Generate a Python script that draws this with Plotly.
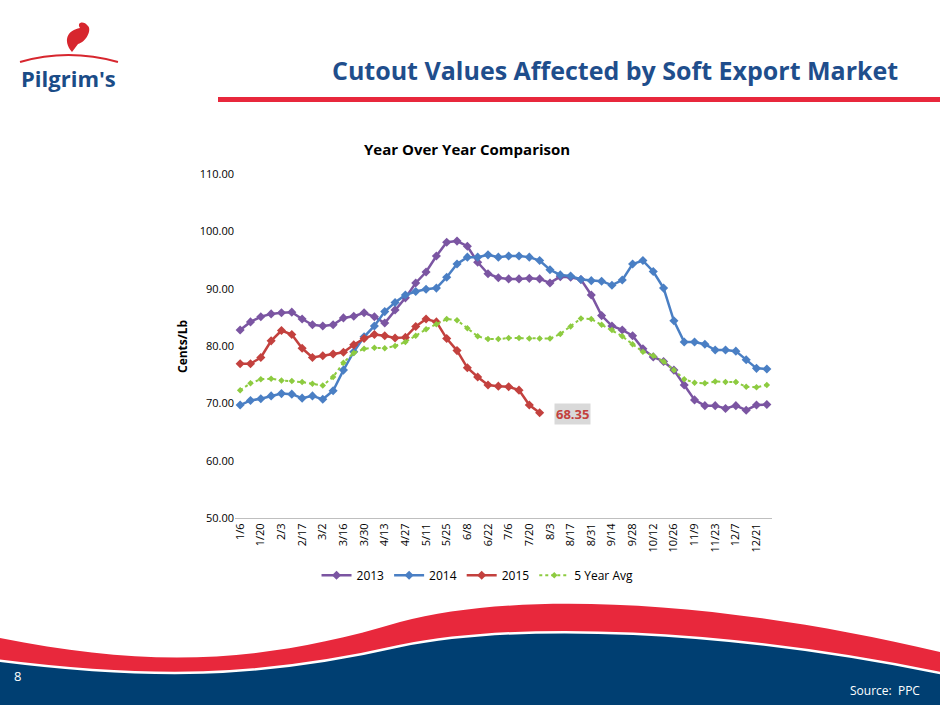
import plotly.graph_objects as go

weeks = ["1/6","1/13","1/20","1/27","2/3","2/10","2/17","2/24","3/2","3/9","3/16","3/23","3/30","4/6","4/13","4/20","4/27","5/4","5/11","5/18","5/25","6/1","6/8","6/15","6/22","6/29","7/6","7/13","7/20","7/27","8/3","8/10","8/17","8/24","8/31","9/7","9/14","9/21","9/28","10/5","10/12","10/19","10/26","11/2","11/9","11/16","11/23","11/30","12/7","12/14","12/21","12/28"]

y2013 = [82.8,84.2,85.1,85.6,85.8,85.9,84.7,83.7,83.5,83.7,84.9,85.2,85.8,85.1,84.0,86.3,88.4,91.0,92.9,95.7,98.1,98.3,97.4,94.6,92.6,91.9,91.7,
         91.7,91.8,91.7,91.0,92.1,92.0,91.6,88.9,85.3,83.5,82.8,81.8,79.5,78.1,77.3,75.8,73.2,70.6,69.6,69.6,69.1,69.6,68.8,69.7,69.8]
y2014 = [69.7,70.5,70.8,71.3,71.7,71.6,70.9,71.3,70.7,72.2,75.8,79.0,81.6,83.5,86.0,87.6,88.9,89.5,89.9,90.1,92.0,94.3,95.5,95.5,95.9,95.5,95.7,
         95.7,95.5,94.9,93.3,92.4,92.2,91.6,91.4,91.3,90.6,91.5,94.3,94.9,93.0,90.1,84.4,80.7,80.7,80.3,79.3,79.3,79.1,77.6,76.1,76.0]
y2015 = [76.9,76.9,78.0,80.9,82.7,82.0,79.6,78.0,78.3,78.6,78.9,80.2,81.3,82.0,81.8,81.4,81.5,83.4,84.7,84.2,81.3,79.2,76.2,74.6,73.2,73.0,72.9,
         72.3,69.7,68.35]
yavg = [72.3,73.5,74.2,74.3,74.0,73.9,73.7,73.4,73.1,74.6,77.1,78.8,79.5,79.7,79.6,80.0,80.7,81.8,82.9,83.8,84.7,84.5,83.1,81.7,81.2,81.2,81.4,
        81.4,81.3,81.3,81.3,82.1,83.4,84.8,84.7,83.7,82.8,81.7,80.3,79.0,78.3,77.3,75.8,74.2,73.6,73.5,73.8,73.7,73.7,72.9,72.8,73.2]
yticks = [50,60,70,80,90,100,110]
tick_weeks = weeks[::2][:26]

fig = go.Figure()
def add(name, y, color, dash="solid"):
    fig.add_trace(go.Scatter(x=weeks[:len(y)], y=y, name=name, mode="lines+markers",
        line=dict(color=color, width=2.5 if dash=="solid" else 2, dash=dash),
        marker=dict(symbol="diamond", size=7 if dash=="solid" else 5, color=color)))
add("2013", y2013, "#7B55A2")
add("2014", y2014, "#4A7FC4")
add("2015", y2015, "#C3413E")
add("5 Year Avg", yavg, "#8DCB40", "dot")

fig.add_annotation(x=weeks[len(y2015)-1], y=y2015[-1], text="<b>68.35</b>", showarrow=False,
    xshift=33, yshift=-1, bgcolor="#D9D9D9", font=dict(color="#C3413E", size=13, family="Open Sans"))

dark = "#1F4E8C"
fig.update_layout(
    width=940, height=705, margin=dict(l=0, r=0, t=0, b=0, autoexpand=False),
    plot_bgcolor="white", paper_bgcolor="white",
    font=dict(family="Open Sans", size=11, color="#404040"),
    xaxis=dict(domain=[235/940, 772/940], type="category", categoryorder="array", categoryarray=weeks,
               tickmode="array", tickvals=tick_weeks, ticktext=tick_weeks, tickangle=-90, automargin=False,
               showgrid=False, showline=True, linecolor="#BFBFBF", ticks="", range=[-0.5, 51.5],
               tickfont=dict(size=11, color="#000")),
    yaxis=dict(domain=[1-518/705, 1-174/705], range=[50, 110], tickvals=yticks, tickformat=".2f", automargin=False,
               showgrid=False, showline=False, zeroline=False, tickfont=dict(size=11, color="#000")),
    legend=dict(orientation="h", x=0.508, xanchor="center", y=0.184, yanchor="middle",
                font=dict(size=12, color="#000")),
    showlegend=True,
)
def txt(x, y, text, size, color, xanchor="center", angle=0):
    fig.add_annotation(xref="paper", yref="paper", x=x/940, y=1-y/705, xanchor=xanchor, yanchor="middle",
                       text=text, showarrow=False, textangle=angle, font=dict(size=size, color=color))
txt(467, 149, "<b>Year Over Year Comparison</b>", 15, "#000")
txt(182, 346, "<b>Cents/Lb</b>", 12, "#000", angle=-90)
txt(900, 70, "<b>Cutout Values Affected by Soft Export Market</b>", 25, dark, xanchor="right")
txt(68, 78, "<b>Pilgrim's</b>", 22, "#1B4C87")
txt(17, 676, "8", 13, "white")
txt(922, 690, "Source:  PPC", 12, "white", xanchor="right")

def path(s):
    out = []
    for tok in s.split():
        if "," in tok:
            a, b = tok.split(",")
            out.append(f"{float(a)/940:.4f},{1-float(b)/705:.4f}")
        else:
            out.append(tok)
    return " ".join(out)
shapes = [
    dict(type="rect", xref="paper", yref="paper", x0=218/940, x1=1, y0=1-102/705, y1=1-97/705,
         fillcolor="#E8283C", line=dict(width=0)),
    dict(type="path", xref="paper", yref="paper", fillcolor="#E8283C", line=dict(width=0),
         path=path("M 0,638 C 150,668 260,664 400,622 C 520,590 720,600 940,652 L 940,705 L 0,705 Z")),
    dict(type="path", xref="paper", yref="paper", fillcolor="#003F72", line=dict(color="white", width=2.5),
         path=path("M -5,660 C 150,680 260,678 400,646 C 520,622 720,628 945,674 L 945,710 L -5,710 Z")),
    dict(type="path", xref="paper", yref="paper", fillcolor="#D7262E", line=dict(width=0),
         path=path("M 72,52 C 62,40 68,30 80,28 C 76,22 84,20 88,26 C 92,30 86,42 78,44 Z")),
    dict(type="path", xref="paper", yref="paper", fillcolor="rgba(0,0,0,0)", line=dict(color="#D7262E", width=2),
         path=path("M 20,62 Q 68,48 118,62")),
]
fig.update_layout(shapes=shapes)
fig.write_html("out.html", config={"displayModeBar": False},
               post_script="document.body.style.margin='0';document.body.style.overflow='hidden';")
